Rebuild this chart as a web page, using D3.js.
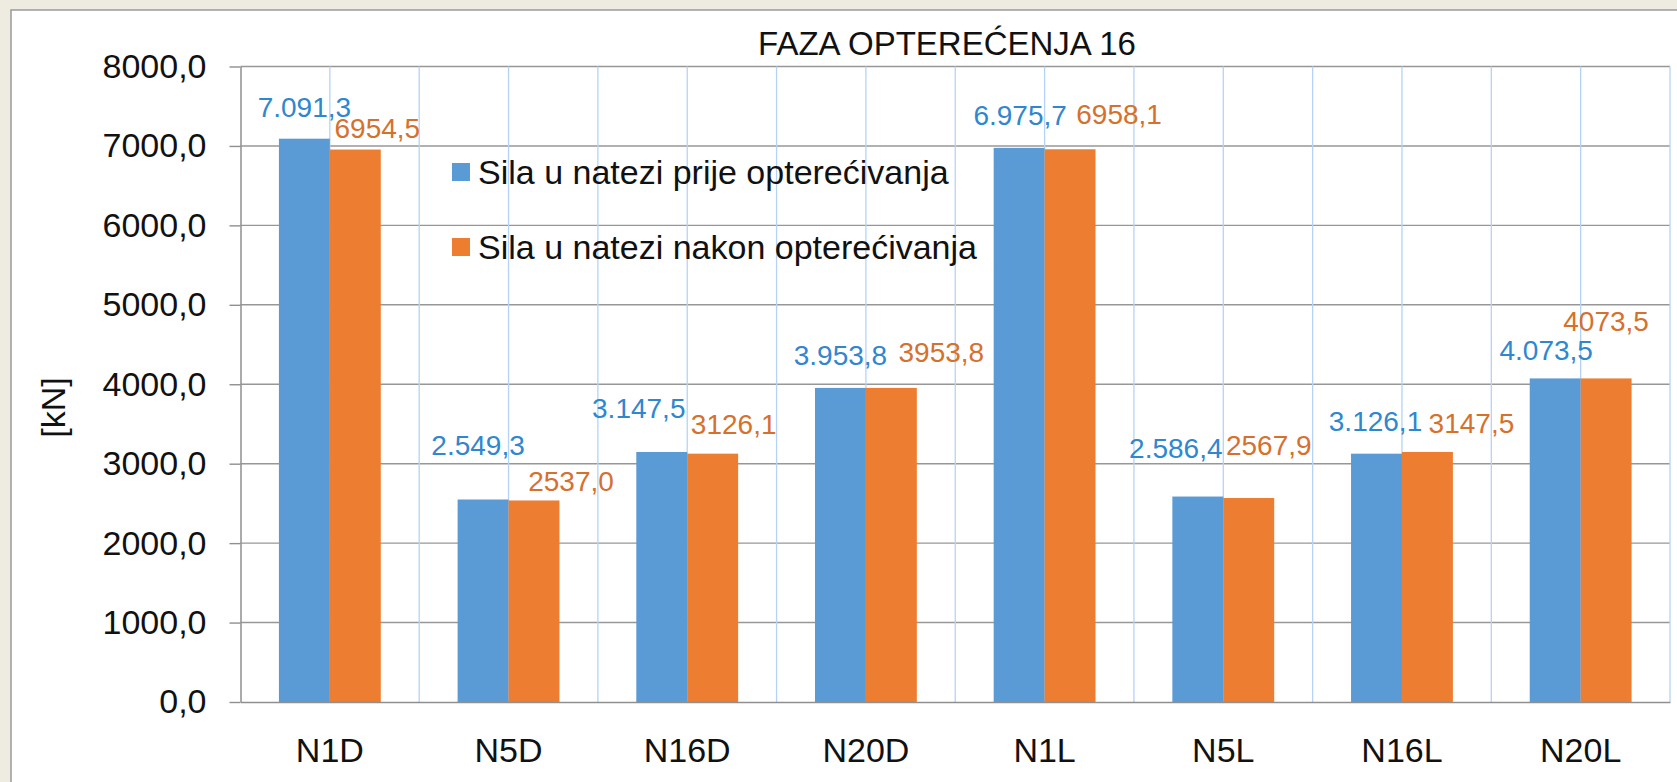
<!DOCTYPE html>
<html>
<head>
<meta charset="utf-8">
<script src="https://cdn.jsdelivr.net/npm/d3@7"></script>
<style>
  html, body { margin: 0; padding: 0; background: #EEEBE0; }
  svg { display: block; }
</style>
</head>
<body>
<script>
// ---------- data ----------
const categories = ["N1D", "N5D", "N16D", "N20D", "N1L", "N5L", "N16L", "N20L"];
const seriesNames = ["Sila u natezi prije opterećivanja", "Sila u natezi nakon opterećivanja"];
const before = [7091.3, 2549.3, 3147.5, 3953.8, 6975.7, 2586.4, 3126.1, 4073.5];
const after  = [6954.5, 2537.0, 3126.1, 3953.8, 6958.1, 2567.9, 3147.5, 4073.5];
const yTicks = [0, 1000, 2000, 3000, 4000, 5000, 6000, 7000, 8000];
const chartTitle = "FAZA OPTEREĆENJA 16";
const yTitle = "[kN]";
// manual data-label nudges (dx, dy in px) as placed in the original
const nudgeBefore = [[0, 22], [-5, 44], [-23, 34], [0, 23], [1, 23], [-22, 39], [-1, 23], [-9, 18]];
const nudgeAfter  = [[22, 12], [37, 9], [21, 20], [50, 26], [49, 25], [20, 43], [44, 19], [0, 47]];

// ---------- layout ----------
const W = 1677, H = 782;
const plot = { left: 240.5, right: 1670, top: 66.5, bottom: 702 };
const colors = ["#5B9BD5", "#ED7D31"];
const labelColors = ["#2F87CF", "#D6712D"];
const font = "'Liberation Sans', Arial, sans-serif";

const svg = d3.select("body").append("svg").attr("width", W).attr("height", H);

// chart area box
svg.append("rect").attr("x", 11).attr("y", 10).attr("width", W).attr("height", H)
  .attr("fill", "#fff").attr("stroke", "#9a9a9a").attr("stroke-width", 1.5);

const x0 = d3.scaleBand().domain(categories).range([plot.left, plot.right]).padding(0);
const bw = x0.bandwidth();
const x1 = d3.scaleBand().domain([0, 1]).range([bw * 0.215, bw * 0.785]).padding(0);
const y = d3.scaleLinear().domain([0, 8000]).range([plot.bottom, plot.top]);

// horizontal gridlines
svg.append("g").selectAll("line").data(yTicks.filter(d => d > 0)).join("line")
  .attr("x1", plot.left).attr("x2", plot.right)
  .attr("y1", d => y(d)).attr("y2", d => y(d))
  .attr("stroke", "#979797").attr("stroke-width", 1.4);

// vertical light-blue gridlines (category centers and boundaries)
const vx = [];
categories.forEach((c, i) => {
  vx.push(x0(c) + bw / 2);
  if (i > 0) vx.push(x0(c));
});
vx.push(plot.right);
svg.append("g").selectAll("line").data(vx).join("line")
  .attr("x1", d => d).attr("x2", d => d)
  .attr("y1", plot.top).attr("y2", plot.bottom)
  .attr("stroke", "#B5D3F7").attr("stroke-width", 1.3);

// bars
const series = [before, after];
const rows = categories.map((c, i) => ({ c, i, vals: [before[i], after[i]] }));
const groups = svg.append("g").selectAll("g").data(rows).join("g")
  .attr("transform", d => `translate(${x0(d.c)},0)`);
groups.selectAll("rect").data(d => d.vals.map((v, s) => ({ v, s }))).join("rect")
  .attr("x", d => x1(d.s)).attr("width", x1.bandwidth())
  .attr("y", d => y(d.v)).attr("height", d => y(0) - y(d.v))
  .attr("fill", d => colors[d.s]);

// axes
const loc = d3.formatLocale({ decimal: ",", thousands: ".", grouping: [3], currency: ["", ""] });
const tickFmt = loc.format(".1f");
const yAxis = svg.append("g").attr("transform", `translate(${plot.left},0)`)
  .call(d3.axisLeft(y).tickValues(yTicks).tickFormat(tickFmt).tickSize(11).tickPadding(23).tickSizeOuter(0));
yAxis.select(".domain").attr("stroke", "#8f8f8f").attr("stroke-width", 1.5);
yAxis.selectAll(".tick line").attr("stroke", "#8f8f8f").attr("stroke-width", 1.4);
yAxis.selectAll("text").attr("font-family", font).attr("font-size", 34).attr("fill", "#111");

const xAxis = svg.append("g").attr("transform", `translate(0,${plot.bottom})`)
  .call(d3.axisBottom(x0).tickSize(0).tickPadding(35.6).tickSizeOuter(0));
xAxis.select(".domain").attr("stroke", "#8f8f8f").attr("stroke-width", 1.5);
xAxis.selectAll("text").attr("font-family", font).attr("font-size", 34).attr("fill", "#111");

// data labels
const fmtBefore = loc.format(",.1f");
const fmtAfter = loc.format(".1f");
const fmts = [fmtBefore, fmtAfter];
const nudges = [nudgeBefore, nudgeAfter];
series.forEach((vals, s) => {
  svg.append("g").selectAll("text").data(vals).join("text")
    .attr("x", (v, i) => x0(categories[i]) + x1(s) + x1.bandwidth() / 2 + nudges[s][i][0])
    .attr("y", (v, i) => y(v) - nudges[s][i][1])
    .attr("text-anchor", "middle")
    .attr("font-family", font).attr("font-size", 28)
    .attr("fill", labelColors[s])
    .text(v => fmts[s](v));
});

// title
svg.append("text").attr("x", 947).attr("y", 55).attr("text-anchor", "middle")
  .attr("font-family", font).attr("font-size", 33).attr("fill", "#111").text(chartTitle);

// y-axis title
svg.append("text").attr("transform", "translate(65,407.5) rotate(-90)")
  .attr("text-anchor", "middle")
  .attr("font-family", font).attr("font-size", 34).attr("fill", "#111").text(yTitle);

// legend
const lg = svg.append("g").selectAll("g").data(seriesNames).join("g")
  .attr("transform", (d, i) => `translate(452,${163 + i * 75})`);
lg.append("rect").attr("width", 18).attr("height", 18).attr("fill", (d, i) => colors[i]);
lg.append("text").attr("x", 26).attr("y", 20.5)
  .attr("font-family", font).attr("font-size", 34).attr("fill", "#111").text(d => d);
</script>
</body>
</html>
